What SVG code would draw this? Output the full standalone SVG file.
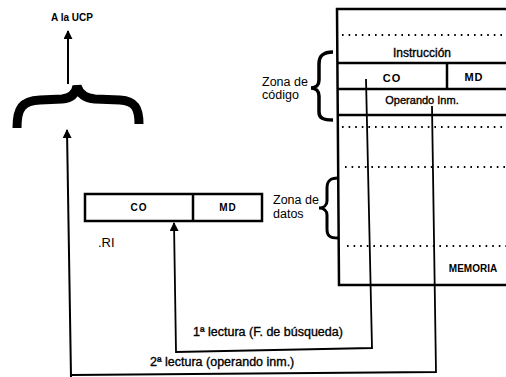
<svg xmlns="http://www.w3.org/2000/svg" width="506" height="377" viewBox="0 0 506 377">
<defs>
<marker id="ah" viewBox="0 0 10 10" refX="9" refY="5" markerWidth="9" markerHeight="9" markerUnits="userSpaceOnUse" orient="auto">
<path d="M0,0 L10,5 L0,10 Z" fill="#000"/>
</marker>
<style>
.t{font-family:"Liberation Sans",Arial,sans-serif;fill:#000;}
.s{stroke:#000;stroke-width:0.35;}
.b{font-weight:bold;}
.ln{stroke:#000;fill:none;}
.dot{stroke:#000;stroke-width:1.8;stroke-dasharray:1.6 5;fill:none;}
</style>
</defs>
<rect width="506" height="377" fill="#fff"/>

<g id="ucp">
<text class="t b" x="72" y="21" font-size="10" text-anchor="middle">A la UCP</text>
</g>

<g id="brace-main">
<path class="ln" stroke-width="9" d="M17,128 C17,108 22,101 40,100 L62,99 C72,98 76,93 77,86 C79,93 84,98 95,99 L120,100 C135,101 139,108 139,124"/>
</g>

<g id="memoria">
<path class="ln" stroke-width="2.5" d="M506,9 L337,9 L339,285 L506,285"/>
<line class="ln" stroke-width="2.5" x1="337" y1="63" x2="506" y2="63"/>
<line class="ln" stroke-width="2.5" x1="337" y1="89" x2="506" y2="89"/>
<line class="ln" stroke-width="2.5" x1="337" y1="115" x2="506" y2="115"/>
<line class="ln" stroke-width="2.5" x1="447" y1="63" x2="447" y2="89"/>
<line class="dot" x1="342" y1="35" x2="506" y2="35"/>
<line class="dot" x1="342" y1="127" x2="506" y2="127"/>
<line class="dot" x1="345" y1="167" x2="506" y2="167"/>
<line class="dot" x1="347" y1="246" x2="506" y2="246"/>
<text class="t s" x="422" y="57" font-size="12" text-anchor="middle">Instrucción</text>
<text class="t b" x="392" y="82" font-size="11" text-anchor="middle" letter-spacing="1">CO</text>
<text class="t b" x="474" y="81" font-size="11" text-anchor="middle" letter-spacing="1">MD</text>
<text class="t s" x="422" y="104" font-size="11" text-anchor="middle">Operando Inm.</text>
<text class="t b" x="473" y="272" font-size="10" text-anchor="middle">MEMORIA</text>
</g>

<g id="zona-codigo">
<path class="ln" stroke-width="3.5" d="M333,52 C323,52 319,56 319,64 L319,80 C319,85 316,88 311,88 C316,88 319,91 319,96 L319,112 C319,118 323,120 333,120"/>
<text class="t" x="262" y="86" font-size="12.5">Zona de</text>
<text class="t" x="262" y="99" font-size="12.5">código</text>
</g>

<g id="zona-datos">
<path class="ln" stroke-width="3" d="M338,178 C330,178 327,181 327,188 L327,201 C327,205 324,208 319,208 C324,208 327,211 327,215 L327,229 C327,236 330,238 338,238"/>
<text class="t" x="273" y="204" font-size="12.5">Zona de</text>
<text class="t" x="273" y="218" font-size="12.5">datos</text>
</g>

<g id="ri">
<rect class="ln" stroke-width="2.5" x="85" y="194" width="177" height="27"/>
<line class="ln" stroke-width="2.5" x1="193" y1="194" x2="193" y2="221"/>
<text class="t b" x="139" y="211" font-size="10" text-anchor="middle" letter-spacing="1">CO</text>
<text class="t b" x="228" y="211" font-size="10" text-anchor="middle" letter-spacing="1">MD</text>
<text class="t" x="98" y="247" font-size="13">.RI</text>
</g>

<g id="connectors">
<line class="ln" stroke-width="2" x1="68" y1="84" x2="68" y2="31" marker-end="url(#ah)"/>
<line class="ln" stroke-width="2" x1="71" y1="377" x2="67" y2="130" marker-end="url(#ah)"/>
<path class="ln" stroke-width="1.8" d="M366,79 L372,348 L176,352 L174,223" marker-end="url(#ah)"/>
<path class="ln" stroke-width="1.8" d="M432,106 L436,372 L71,375"/>
</g>

<g id="labels">
<text class="t s" x="193" y="336" font-size="12.5">1ª lectura (F. de búsqueda)</text>
<text class="t s" x="150" y="366" font-size="12.5">2ª lectura (operando inm.)</text>
</g>
</svg>
